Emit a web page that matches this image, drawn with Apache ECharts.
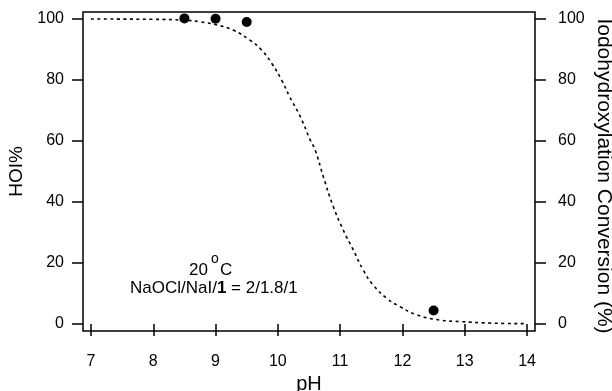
<!DOCTYPE html>
<html>
<head>
<meta charset="utf-8">
<script src="https://cdn.jsdelivr.net/npm/echarts@6/dist/echarts.min.js"></script>
<style>html,body{margin:0;padding:0;background:#fff}#c{width:612px;height:391px}</style>
</head>
<body>
<div id="c"></div>
<script>
// Measured data points
const pointPH = [8.5, 9.0, 9.5, 12.5];
const pointHOI = [100.2, 100.1, 99.0, 4.4];
// Dashed fitted curve
const curvePH = [7, 8, 8.5, 8.75, 9.07, 9.28, 9.55, 9.74, 9.9, 10.06, 10.19, 10.36, 10.52, 10.6, 10.73, 10.89, 11.05, 11.21, 11.37, 11.53, 11.75, 11.96, 12.23, 12.6, 12.92, 13.4, 14];
const curveHOI = [100, 99.9, 99.6, 99.1, 97.8, 96.4, 93.1, 89.8, 85.5, 80, 74.5, 68, 60.3, 57, 48.3, 38.5, 30.8, 24.3, 17.7, 12.8, 8.4, 5.7, 3.0, 1.3, 0.8, 0.3, 0.1];
const xTicks = [7, 8, 9, 10, 11, 12, 13, 14];
const yTicks = [0, 20, 40, 60, 80, 100];
const rightTitle = 'Iodohydroxylation Conversion (%)';

const FONT = '"Liberation Sans", Arial, sans-serif';
const chart = echarts.init(document.getElementById('c'), null, {renderer: 'canvas'});

const yAxisCommon = {
  type: 'value',
  min: -2.3, max: 102.3,
  splitLine: {show: false},
  axisLine: {show: false},
  axisTick: {show: true, inside: false, length: 11, customValues: yTicks, lineStyle: {color: '#000', width: 1.5}},
  axisLabel: {show: true, customValues: yTicks, color: '#000', fontSize: 16, fontFamily: FONT},
  nameLocation: 'middle',
  nameTextStyle: {color: '#000', fontFamily: FONT}
};

const option = {
  animation: false,
  backgroundColor: '#fff',
  grid: {left: 83, right: 77, top: 12, bottom: 60, show: true, borderColor: '#000', borderWidth: 1.5, backgroundColor: 'transparent', outerBoundsMode: 'none', containLabel: false},
  xAxis: {
    type: 'value', min: 6.872, max: 14.128,
    splitLine: {show: false},
    axisLine: {show: false},
    axisTick: {show: true, inside: false, length: 12, customValues: xTicks, lineStyle: {color: '#000', width: 1.5}},
    axisLabel: {show: true, customValues: xTicks, color: '#000', fontSize: 16, fontFamily: FONT, margin: 23},
    name: 'pH', nameLocation: 'middle', nameGap: 40,
    nameTextStyle: {color: '#000', fontSize: 20, fontFamily: FONT}
  },
  yAxis: [
    Object.assign({}, yAxisCommon, {
      position: 'left', name: 'HOI%', nameGap: 47,
      axisLabel: Object.assign({}, yAxisCommon.axisLabel, {margin: 19}),
      nameTextStyle: {color: '#000', fontSize: 19, fontFamily: FONT}
    }),
    Object.assign({}, yAxisCommon, {
      position: 'right',
      axisLabel: Object.assign({}, yAxisCommon.axisLabel, {margin: 23})
    })
  ],
  series: [
    {
      type: 'line', data: curvePH.map((x, i) => [x, curveHOI[i]]),
      smooth: true, symbol: 'none',
      lineStyle: {color: '#000', width: 1.6, type: [3, 3.5]}
    },
    {
      type: 'scatter', data: pointPH.map((x, i) => [x, pointHOI[i]]),
      symbol: 'circle', symbolSize: 10,
      itemStyle: {color: '#000', opacity: 1}
    }
  ],
  graphic: [
    {type: 'text', x: 604, y: 176, rotation: -Math.PI / 2,
      style: {text: rightTitle, fontSize: 21, fontFamily: FONT, fill: '#000', align: 'center', verticalAlign: 'middle'}},
    {type: 'text', left: 189, top: 262, style: {text: '20', fontSize: 17, fontFamily: FONT, fill: '#000'}},
    {type: 'text', left: 211, top: 252, style: {text: 'o', fontSize: 14, fontFamily: FONT, fill: '#000'}},
    {type: 'text', left: 220, top: 262, style: {text: 'C', fontSize: 17, fontFamily: FONT, fill: '#000'}},
    {type: 'text', left: 130, top: 280, style: {
      text: '{n|NaOCl/NaI/}{b|1}{n| = 2/1.8/1}',
      rich: {
        n: {fontSize: 17, fontFamily: FONT, color: '#000'},
        b: {fontSize: 17, fontFamily: FONT, fontWeight: 'bold', color: '#000'}
      }
    }}
  ]
};
chart.setOption(option);
</script>
</body>
</html>
